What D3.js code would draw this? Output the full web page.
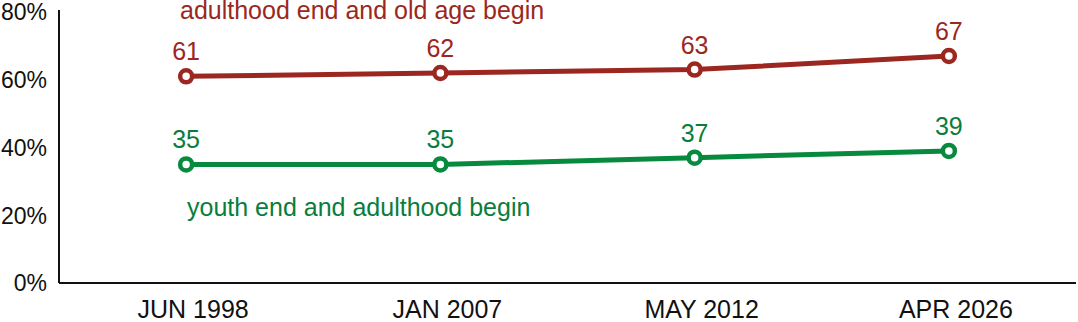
<!DOCTYPE html>
<html>
<head>
<meta charset="utf-8">
<script src="https://cdn.jsdelivr.net/npm/d3@7"></script>
<style>
  body { margin: 0; background: #fff; }
  svg text { font-family: "Liberation Sans", Arial, sans-serif; }
</style>
</head>
<body>
<div id="chart"></div>
<script>
var dates = ["JUN 1998", "JAN 2007", "MAY 2012", "APR 2026"];
var oldAgeBegin = [61, 62, 63, 67];
var adulthoodBegin = [35, 35, 37, 39];
var yTicks = [0, 20, 40, 60, 80];

var width = 1078, height = 322;
var plotLeft = 59, plotRight = 1076, plotTop = 12, plotBottom = 283;

var svg = d3.select("#chart")
    .append("svg")
    .attr("width", width)
    .attr("height", height);

var x = d3.scalePoint()
    .domain(dates)
    .range([plotLeft, plotRight])
    .padding(0.5);

var y = d3.scaleLinear()
    .domain([0, 80])
    .range([plotBottom, plotTop]);

// axes, drawn as plain lines like the original
svg.append("line")
    .attr("x1", plotLeft).attr("x2", plotLeft)
    .attr("y1", y(80) - 2).attr("y2", plotBottom)
    .attr("stroke", "#111").attr("stroke-width", 2);
svg.append("line")
    .attr("x1", plotLeft).attr("x2", plotRight)
    .attr("y1", plotBottom).attr("y2", plotBottom)
    .attr("stroke", "#111").attr("stroke-width", 2);

svg.selectAll(".ylab")
    .data(yTicks)
    .enter()
    .append("text")
    .attr("x", 47)
    .attr("y", function (d) { return y(d); })
    .attr("dy", "0.36em")
    .attr("text-anchor", "end")
    .style("font-size", "23px")
    .attr("fill", "#111")
    .text(function (d) { return d + "%"; });

// date labels sit a little right of the points in the original
svg.selectAll(".xlab")
    .data(dates)
    .enter()
    .append("text")
    .attr("x", function (d) { return x(d) + 7; })
    .attr("y", 318)
    .attr("text-anchor", "middle")
    .style("font-size", "25px")
    .attr("fill", "#111")
    .text(function (d) { return d; });

var series = [
    { values: oldAgeBegin, color: "#9b2720", text: "#9b2720", label: "adulthood end and old age begin", lx: 180, ly: 19 },
    { values: adulthoodBegin, color: "#078a3e", text: "#0a7d3c", label: "youth end and adulthood begin", lx: 187, ly: 216 }
];

var line = d3.line()
    .x(function (d, i) { return x(dates[i]); })
    .y(function (d) { return y(d); });

series.forEach(function (s) {
    svg.append("path")
        .attr("d", line(s.values))
        .attr("fill", "none")
        .attr("stroke", s.color)
        .attr("stroke-width", 5);

    svg.selectAll(null)
        .data(s.values)
        .enter()
        .append("circle")
        .attr("cx", function (d, i) { return x(dates[i]); })
        .attr("cy", function (d) { return y(d); })
        .attr("r", 6)
        .attr("fill", "#fff")
        .attr("stroke", s.color)
        .attr("stroke-width", 4.5);

    svg.selectAll(null)
        .data(s.values)
        .enter()
        .append("text")
        .attr("x", function (d, i) { return x(dates[i]); })
        .attr("y", function (d) { return y(d) - 16; })
        .attr("text-anchor", "middle")
        .style("font-size", "25px")
        .attr("fill", s.text)
        .text(function (d) { return d; });

    svg.append("text")
        .attr("x", s.lx)
        .attr("y", s.ly)
        .style("font-size", "25px")
        .attr("fill", s.text)
        .text(s.label);
});
</script>
</body>
</html>
